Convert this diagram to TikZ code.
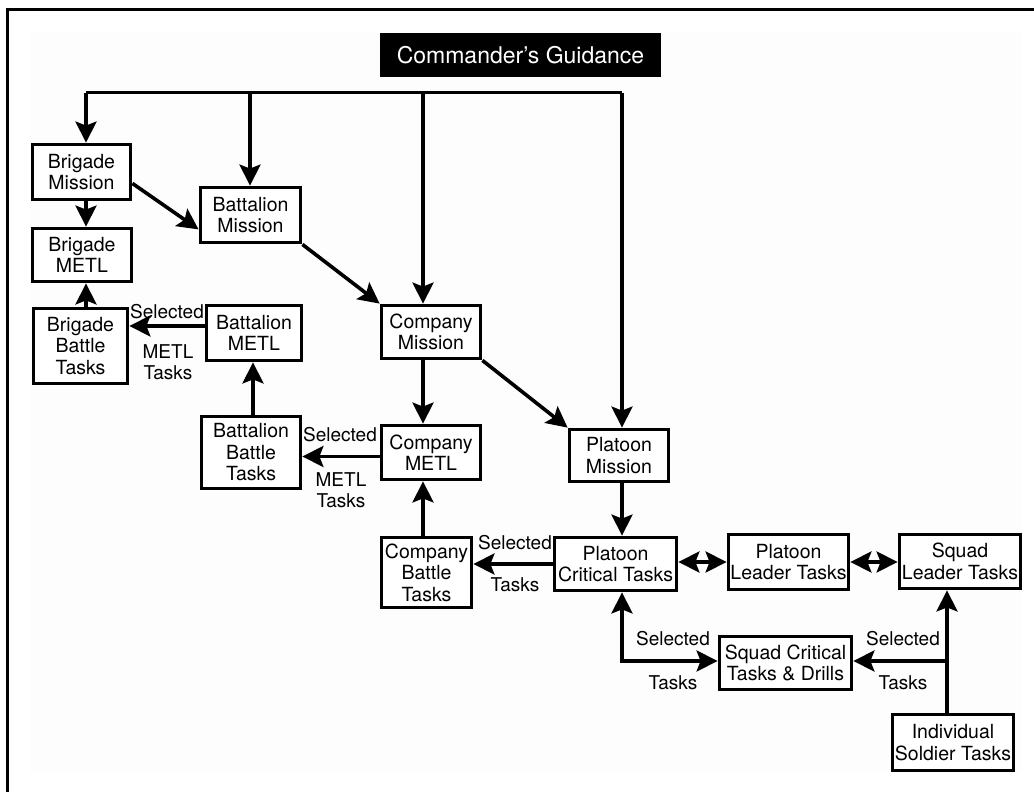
\documentclass[tikz,border=0pt]{standalone}
\usepackage{fontspec}
\setmainfont{TeX Gyre Heros}
\usetikzlibrary{arrows.meta}
\begin{document}
\begin{tikzpicture}[x=1pt,y=-1pt,
  box/.style={draw=black, line width=3.8pt, fill=white, inner sep=0pt, align=center,
    font=\fontsize{19.5}{21.5}\selectfont},
  lbl/.style={inner sep=0pt, align=center, font=\fontsize{19}{20.5}\selectfont},
  arr/.style={line width=3.6pt, -{Stealth[length=21pt,width=21pt,inset=4pt]}},
  arrboth/.style={line width=3.6pt, {Stealth[length=21pt,width=21pt,inset=4pt]}-{Stealth[length=21pt,width=21pt,inset=4pt]}},
  ]
\useasboundingbox (0,0) rectangle (1034,792);
\fill[white] (0,0) rectangle (1034,792);
\fill[black!0.7] (30,33) rectangle (1022,772);
\draw[line width=3pt] (7,793) -- (7,10) -- (1035,10);

% nodes
\node[fill=black, text=white, inner sep=0pt, minimum width=281pt, minimum height=44pt,
  font=\fontsize{23}{25}\selectfont] (cg) at (520.5,55) {Commander's Guidance};
\node[box, minimum width=98pt, minimum height=55pt] (bm) at (81.5,172) {Brigade\\Mission};
\node[box, minimum width=100pt, minimum height=55pt] (btm) at (250.5,215) {Battalion\\Mission};
\node[box, minimum width=99pt, minimum height=53pt] (bmetl) at (82,255) {Brigade\\METL};
\node[box, minimum width=94pt, minimum height=75pt] (bbt) at (80.5,346) {Brigade\\Battle\\Tasks};
\node[box, minimum width=95pt, minimum height=55pt] (btmetl) at (254,333) {Battalion\\METL};
\node[box, minimum width=99pt, minimum height=72pt] (btbt) at (251,452.5) {Battalion\\Battle\\Tasks};
\node[box, minimum width=99pt, minimum height=53pt] (cm) at (431,332) {Company\\Mission};
\node[box, minimum width=99pt, minimum height=54pt] (cmetl) at (431,452.5) {Company\\METL};
\node[box, minimum width=90pt, minimum height=70pt] (cbt) at (426.5,572.5) {Company\\Battle\\Tasks};
\node[box, minimum width=99pt, minimum height=52pt] (pm) at (619,455.5) {Platoon\\Mission};
\node[box, minimum width=122pt, minimum height=53pt] (pct) at (615.5,564) {Platoon\\Critical Tasks};
\node[box, minimum width=120pt, minimum height=55pt] (plt) at (788.5,562) {Platoon\\Leader Tasks};
\node[box, minimum width=121pt, minimum height=54pt] (slt) at (960,561.5) {Squad\\Leader Tasks};
\node[box, minimum width=132pt, minimum height=53pt] (sctd) at (785.5,663) {Squad Critical\\Tasks \& Drills};
\node[box, minimum width=121pt, minimum height=56pt] (ist) at (953,742.5) {Individual\\Soldier Tasks};

% labels
\node[lbl] (l1a) at (167,312) {Selected};
\node[lbl] (l1b) at (168,362) {METL\\Tasks};
\node[lbl] (l2a) at (340,435) {Selected};
\node[lbl] (l2b) at (341,490) {METL\\Tasks};
\node[lbl] (l3a) at (515,543) {Selected};
\node[lbl] (l3b) at (515,585) {Tasks};
\node[lbl] (l4a) at (673,639) {Selected};
\node[lbl] (l4b) at (673,683) {Tasks};
\node[lbl] (l5a) at (903,639) {Selected};
\node[lbl] (l5b) at (903,683) {Tasks};

% helper coordinates
\coordinate (t1) at (86,93);
\coordinate (t2) at (250,93);
\coordinate (t3) at (423,93);
\coordinate (t4) at (622,93);
\coordinate (v) at (947,661);
\coordinate (x253) at (253,0);
\coordinate (p1) at ([yshift=7pt]btmetl.west);
\coordinate (p2) at ([yshift=-4pt]cmetl.west);
\coordinate (p3) at ([yshift=18pt]bm.south east);
\coordinate (p4) at ([yshift=15pt]btm.south west);

\draw[line width=3pt] (t1) -- (t4);
\draw[arr] (t1) -- (t1 |- bm.north);
\draw[arr] (t2) -- (t2 |- btm.north);
\draw[arr] (t3) -- (t3 |- cm.north);
\draw[arr] (t4) -- (t4 |- pm.north);

\draw[arr] (bm.south -| t1) -- (bmetl.north -| t1);
\draw[arr] (p3) -- (p4);
\draw[arr] (btm.south east) -- (cm.north west);
\draw[arr] (bbt.north -| t1) -- (bmetl.south -| t1);
\draw[arr] (p1) -- (bbt.east |- p1);
\draw[arr] (btbt.north -| x253) -- (btmetl.south -| x253);
\draw[arr] (cm.south -| t3) -- (cmetl.north -| t3);
\draw[arr] (p2) -- (btbt.east |- p2);
\draw[arr] (cbt.north -| t3) -- (cmetl.south -| t3);
\draw[arr] (cm.south east) -- (pm.north west);
\draw[arr] (pm.south -| t4) -- (pct.north -| t4);
\draw[arr] (pct.west) -- (cbt.east |- pct.west);
\draw[arrboth] (pct.east |- plt.west) -- (plt.west);
\draw[arrboth] (plt.east) -- (slt.west |- plt.east);
\draw[arrboth] (pct.south -| t4) |- (sctd.west |- v);
\draw[arr] (ist.north -| v) -- (slt.south -| v);
\draw[arr] (v) -- (sctd.east |- v);
\end{tikzpicture}
\end{document}
